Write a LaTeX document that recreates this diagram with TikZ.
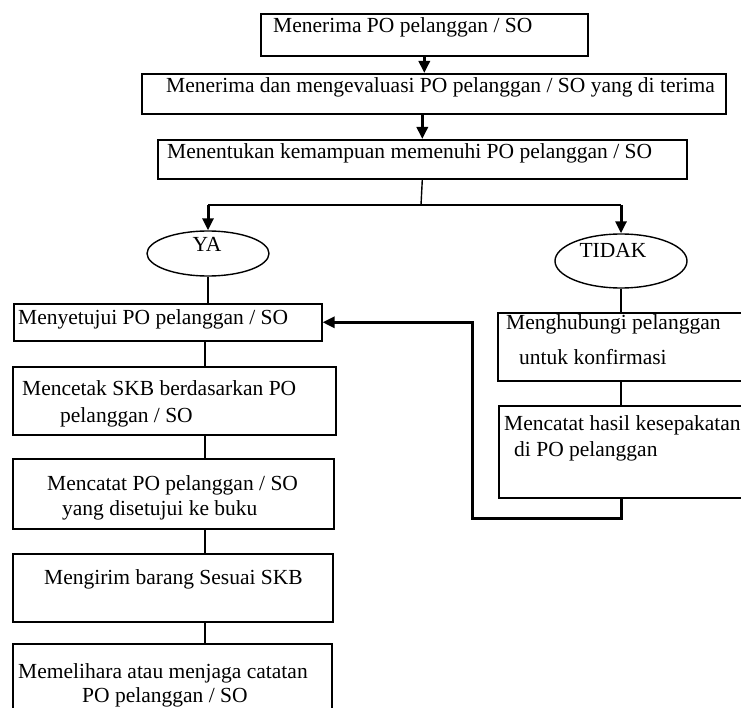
\documentclass[tikz,border=0pt]{standalone}
\usepackage{fontspec}
\setmainfont{Liberation Serif}
\usetikzlibrary{arrows.meta,shapes.geometric}
\tikzset{
  box/.style={rectangle,draw,line width=1.6pt,anchor=north west,inner sep=0pt},
  oval/.style={ellipse,draw,line width=1.4pt,inner sep=0pt},
  txt/.style={font=\fontsize{21.5}{25}\selectfont,inner sep=0pt,anchor=base west},
  conn/.style={line width=1.4pt},
  flow/.style={-{Triangle[length=12pt,width=11pt]},line width=3pt},
}
\begin{document}
\begin{tikzpicture}[x=1pt,y=-1pt]
  \useasboundingbox (0,0) rectangle (741,708);
  % upper boxes
  \node[box,minimum width=327pt,minimum height=42pt] (terima) at (260,13) {};
  \node[box,minimum width=584pt,minimum height=40pt] (evaluasi) at (141,73) {};
  \node[box,minimum width=529pt,minimum height=39pt] (tentukan) at (157,139) {};
  \node[oval,minimum width=122pt,minimum height=45pt] (ya) at (208,253.5) {};
  \node[oval,minimum width=132pt,minimum height=54pt] (tidak) at (621,261) {};
  % left column
  \node[box,minimum width=308pt,minimum height=37pt] (setuju) at (13,303) {};
  \node[box,minimum width=323pt,minimum height=68pt] (cetak) at (12,366) {};
  \node[box,minimum width=321pt,minimum height=70pt] (catat) at (12,458) {};
  \node[box,minimum width=320pt,minimum height=68pt] (kirim) at (12,553) {};
  \node[box,minimum width=319pt,minimum height=80pt] (pelihara) at (12,643) {};
  % right column
  \node[box,minimum width=260pt,minimum height=68pt] (hubungi) at (497,312) {};
  \node[box,minimum width=260pt,minimum height=92pt] (sepakat) at (498,405) {};
  % texts
  \node[txt] (terimaA) at (273,33) {Menerima PO pelanggan / SO};
  \node[txt] (evaluasiA) at (166,93) {Menerima dan mengevaluasi PO pelanggan / SO yang di terima};
  \node[txt] (tentukanA) at (167,159) {Menentukan kemampuan memenuhi PO pelanggan / SO};
  \node[txt,anchor=base] (yaA) at (207,252) {YA};
  \node[txt,anchor=base] (tidakA) at (613,258) {TIDAK};
  \node[txt] (setujuA) at (18,325) {Menyetujui PO pelanggan / SO};
  \node[txt] (cetakA) at (22,395) {Mencetak SKB berdasarkan PO};
  \node[txt] (cetakB) at (60,422) {pelanggan / SO};
  \node[txt] (catatA) at (47,490) {Mencatat PO pelanggan / SO};
  \node[txt] (catatB) at (62,515) {yang disetujui ke buku};
  \node[txt] (kirimA) at (44,584) {Mengirim barang Sesuai SKB};
  \node[txt] (peliharaA) at (18,678) {Memelihara atau menjaga catatan};
  \node[txt] (peliharaB) at (82,702) {PO pelanggan / SO};
  \node[txt] (hubungiA) at (506,330) {Menghubungi pelanggan};
  \node[txt] (hubungiB) at (519,364) {untuk konfirmasi};
  \node[txt] (sepakatA) at (504,430) {Mencatat hasil kesepakatan};
  \node[txt] (sepakatB) at (514,456) {di PO pelanggan};
  % connectors
  \coordinate (cabang) at (421,205);
  \coordinate (kiri) at (205,0);
  \coordinate (balik) at (472,518);
  \draw[flow] (terima.south) -- (terima.south |- evaluasi.north);
  \draw[flow] (tentukan.north |- evaluasi.south) -- (tentukan.north);
  \draw[conn] (tentukan.south) -- (cabang);
  \draw[conn] (ya.north |- cabang) -- (tidak.north |- cabang);
  \draw[flow] (ya.north |- cabang) -- (ya.north);\draw[flow] (tidak.north |- cabang) -- (tidak.north);
  \draw[conn] (ya.south) -- (ya.south |- setuju.north);
  \draw[conn] (setuju.south -| kiri) -- (cetak.north -| kiri);\draw[conn] (cetak.south -| kiri) -- (catat.north -| kiri);
  \draw[conn] (catat.south -| kiri) -- (kirim.north -| kiri);\draw[conn] (kirim.south -| kiri) -- (pelihara.north -| kiri);
  \draw[conn] (tidak.south) -- (tidak.south |- hubungi.north);
  \draw[conn] (hubungi.south -| tidak.south) -- (sepakat.north -| tidak.south);
  \draw[flow] (sepakat.south -| tidak.south) |- (balik) |- (setuju.east);
\end{tikzpicture}
\end{document}
